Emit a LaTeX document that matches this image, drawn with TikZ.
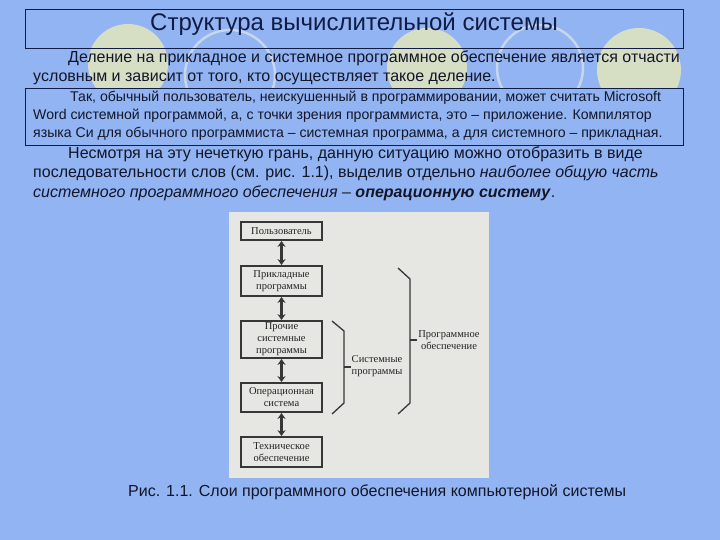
\documentclass[tikz,border=0pt]{standalone}
\usepackage{fontspec}
\setmainfont{Liberation Sans}
\newfontfamily\figfont{Liberation Serif}
\usetikzlibrary{arrows.meta}
\definecolor{bg}{RGB}{146,180,242}
\definecolor{pale}{RGB}{214,222,196}
\definecolor{ringc}{RGB}{200,214,236}
\definecolor{navy}{RGB}{16,28,70}
\definecolor{txt}{RGB}{18,22,40}
\definecolor{panelc}{RGB}{230,231,226}
\definecolor{boxc}{RGB}{55,55,55}
\definecolor{figtxt}{RGB}{35,35,35}
\tikzset{
  big/.style={font=\fontsize{16}{19}\selectfont, text=txt, anchor=base west, inner sep=0},
  small/.style={font=\fontsize{14.1}{16}\selectfont, text=txt, anchor=base west, inner sep=0},
  fbox/.style={draw=boxc, line width=1.8pt, fill=panelc, minimum width=81pt, inner sep=0,
    align=center, font=\figfont\fontsize{10.5}{12}\selectfont, text=figtxt},
  dbl/.style={{Stealth[length=6pt,width=8pt]}-{Stealth[length=6pt,width=8pt]}, line width=2.2pt, draw=boxc},
  brk/.style={draw=boxc, line width=1.3pt},
  blabel/.style={align=center, font=\figfont\fontsize{10.5}{12.5}\selectfont, text=figtxt, inner sep=0},
  ring/.style={draw=ringc, line width=2.5pt}
}
\begin{document}
\begin{tikzpicture}[x=1pt,y=-1pt]
\useasboundingbox (0,0) rectangle (720,540);
\fill[bg] (0,0) rectangle (720,540);
% decorative circles
\fill[pale] (128,64) circle[radius=40];
\fill[pale] (427,68) circle[radius=40];
\fill[pale] (639,70) circle[radius=42];
\draw[ring] (230,75) circle[radius=45];
\draw[ring] (540,68) circle[radius=43];
% title
\node (titlebox) [draw=navy, line width=0.8pt, minimum width=658pt, minimum height=39pt, inner sep=0, anchor=north west] at (25,9) {};
\node (title) [font=\fontsize{24}{28}\selectfont, text=navy, anchor=base, inner sep=0] at (354,31) {Структура вычислительной системы};
% paragraph 1
\node (p1a) [big] at (68,63) {Деление на прикладное и системное программное обеспечение является отчасти};
\node (p1b) [big] at (33,82) {условным и зависит от того, кто осуществляет такое деление.};
% box 2
\node (box2) [draw=navy, fill=bg, line width=0.8pt, minimum width=658pt, minimum height=57pt, inner sep=0, anchor=north west] at (25,88) {};
\node (b2a) [small] at (70,102) {Так, обычный пользователь, неискушенный в программировании, может считать Microsoft};
\node (b2b) [small] at (33,120) {Word системной программой, а, с точки зрения программиста, это – приложение. Компилятор};
\node (b2c) [small] at (33,138) {языка Си для обычного программиста – системная программа, а для системного – прикладная.};
% paragraph 3
\node (p3a) [big] at (68,159) {Несмотря на эту нечеткую грань, данную ситуацию можно отобразить в виде};
\node (p3b) [big] at (33,178) {последовательности слов (см. рис. 1.1), выделив отдельно \textit{наиболее общую часть}};
\node (p3c) [big] at (33,197) {\textit{системного программного обеспечения} – \textbf{\textit{операционную систему}}.};
% figure panel
\node (panel) [fill=panelc, minimum width=260pt, minimum height=266pt, inner sep=0, anchor=north west] at (229,212) {};
\node (user) [fbox, minimum height=18pt] at (281.5,231) {Пользователь};
\node (app) [fbox, minimum height=30pt] at (281.5,281) {Прикладные\\программы};
\node (other) [fbox, minimum height=37pt] at (281.5,339.5) {Прочие\\системные\\программы};
\node (os) [fbox, minimum height=29pt] at (281.5,397.5) {Операционная\\система};
\node (hw) [fbox, minimum height=30pt] at (281.5,452) {Техническое\\обеспечение};
\draw[dbl] (user.south) -- (app.north);
\draw[dbl] (app.south) -- (other.north);
\draw[dbl] (other.south) -- (os.north);
\draw[dbl] (os.south) -- (hw.north);
% brackets
\coordinate (s1) at (332,321); \coordinate (s2) at (344,331);
\coordinate (s3) at (344,403); \coordinate (s4) at (332,414);
\coordinate (sm) at (344,367); \coordinate (st) at (351,367);
\draw[brk] (s1) -- (s2) -- (s3) -- (s4);
\draw[brk] (sm) -- (st);
\node (sys) [blabel] at (377,366) {Системные\\программы};
\coordinate (q1) at (398,268); \coordinate (q2) at (410,279);
\coordinate (q3) at (410,403); \coordinate (q4) at (398,414);
\coordinate (qm) at (410,340); \coordinate (qt) at (417,340);
\draw[brk] (q1) -- (q2) -- (q3) -- (q4);
\draw[brk] (qm) -- (qt);
\node (prog) [blabel] at (449,340) {Программное\\обеспечение};
% caption
\node (cap) [font=\fontsize{16}{19}\selectfont, text=txt, anchor=base west, inner sep=0] at (128,496) {Рис. 1.1. Слои программного обеспечения компьютерной системы};
\end{tikzpicture}
\end{document}
